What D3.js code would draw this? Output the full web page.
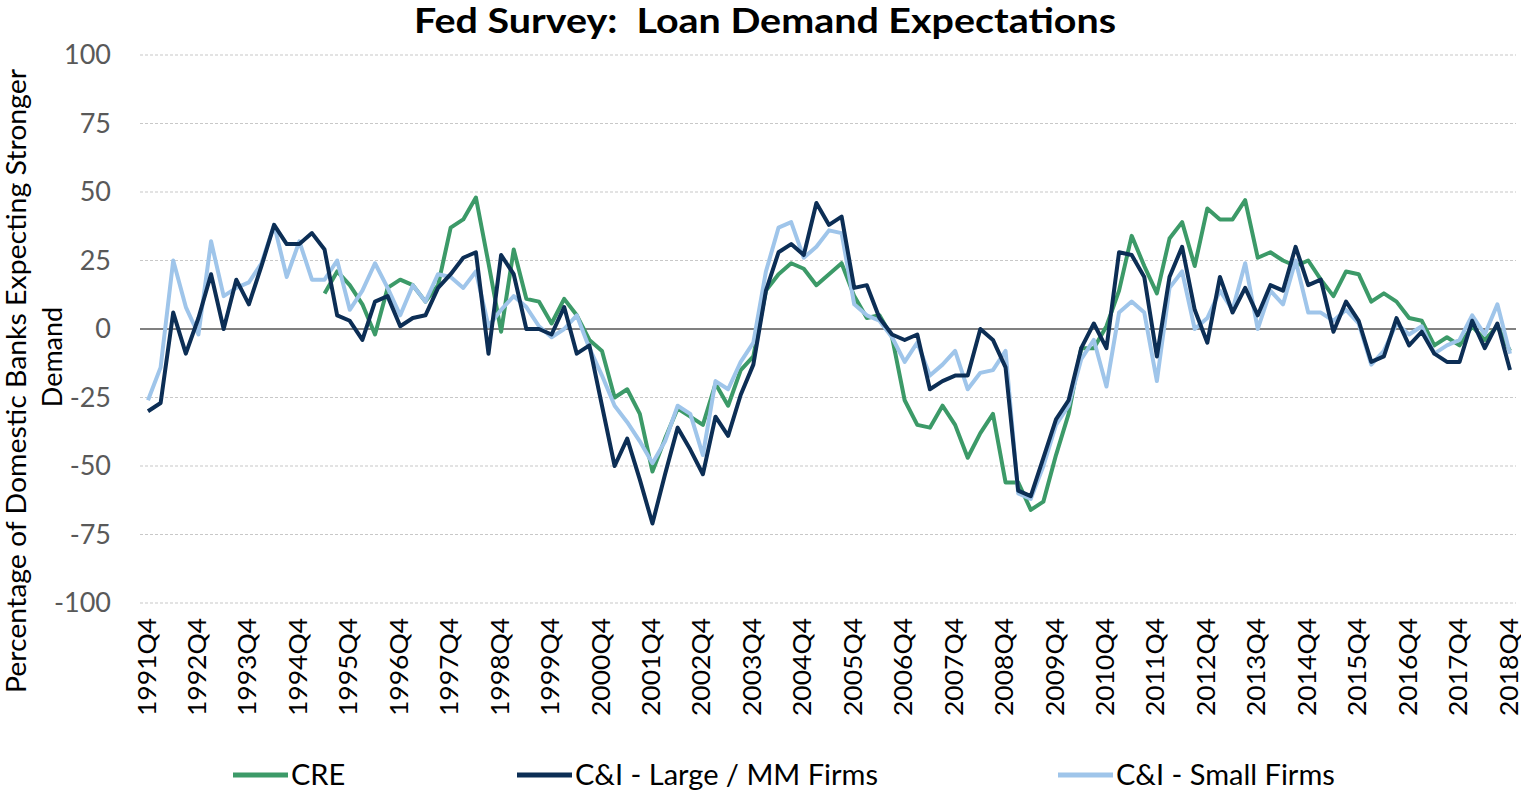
<!DOCTYPE html>
<html>
<head>
<meta charset="utf-8">
<script src="https://cdn.jsdelivr.net/npm/d3@7"></script>
<style>
  html, body { margin: 0; padding: 0; background: #fff; }
  svg { display: block; font-family: Lato, "Open Sans", sans-serif; }
</style>
</head>
<body>
<svg id="chart" width="1521" height="793"></svg>
<script>
// Quarterly survey readings, 1991Q4 through 2018Q4 (net % of banks)
const quarters = ["1991Q4"];
for (let y = 1992; y <= 2018; y++) for (let q = 1; q <= 4; q++) quarters.push(y + "Q" + q);

const yTicks = [100, 75, 50, 25, 0, -25, -50, -75, -100];

const cre = [
  null, null, null, null, null, null, null, null, null, null, null, null, null, null,
  13, 21, 16, 9, -2, 15, 18, 16, 10, 16, 37, 40, 48, 24, -1, 29,
  11, 10, 2, 11, 5, -4, -8, -25, -22, -31, -52, -40, -29, -32, -35, -20,
  -28, -15, -10, 14, 20, 24, 22, 16, 20, 24, 12, 4, 5, -3, -26, -35,
  -36, -28, -35, -47, -38, -31, -56, -56, -66, -63, -46, -31, -7, -7,
  1, 14, 34, 23, 13, 33, 39, 23, 44, 40, 40, 47, 26, 28, 25, 23,
  25, 18, 12, 21, 20, 10, 13, 10, 4, 3, -6, -3, -6, 1, -4, 1, -8
];

const ciLarge = [
  -30, -27, 6, -9, 4, 20, 0, 18, 9, 23, 38, 31, 31, 35, 29, 5,
  3, -4, 10, 12, 1, 4, 5, 15, 20, 26, 28, -9, 27, 20, 0, 0,
  -2, 8, -9, -6, -28, -50, -40, -55, -71, -53, -36, -44, -53, -32, -39, -24,
  -13, 14, 28, 31, 27, 46, 38, 41, 15, 16, 4, -2, -4, -2, -22, -19,
  -17, -17, 0, -4, -14, -59, -61, -47, -33, -26, -7, 2, -7, 28, 27, 19,
  -10, 19, 30, 7, -5, 19, 6, 15, 5, 16, 14, 30, 16, 18, -1, 10,
  3, -12, -10, 4, -6, -1, -9, -12, -12, 3, -7, 2, -15
];

const ciSmall = [
  -26, -14, 25, 8, -2, 32, 12, 15, 17, 24, 38, 19, 32, 18, 18, 25,
  7, 14, 24, 15, 5, 16, 10, 20, 19, 15, 21, 1, 7, 12, 8, 1,
  -3, 0, 5, -7, -17, -28, -34, -41, -49, -41, -28, -31, -46, -19, -22, -12,
  -5, 21, 37, 39, 26, 30, 36, 35, 9, 5, 3, -3, -12, -5, -17, -13,
  -8, -22, -16, -15, -8, -60, -62, -50, -35, -28, -11, -4, -21, 6, 10, 6,
  -19, 15, 21, 0, 4, 14, 7, 24, 0, 14, 9, 25, 6, 6, 3, 7,
  2, -13, -8, 2, -2, 1, -9, -6, -4, 5, -2, 9, -9
];

const seriesNames = ["CRE", "C&I - Large / MM Firms", "C&I - Small Firms"];
const seriesColors = ["#3c9a68", "#0c2e55", "#9fc5ea"];
const seriesData = [cre, ciLarge, ciSmall];

const svg = d3.select("#chart");
const plot = { left: 148, right: 1510, top: 55, bottom: 603, gridLeft: 140, gridRight: 1516 };

const x = d3.scaleLinear().domain([0, quarters.length - 1]).range([plot.left, plot.right]);
const y = d3.scaleLinear().domain([-100, 100]).range([plot.bottom, plot.top]);

// title
svg.append("text")
  .attr("x", 765).attr("y", 33)
  .attr("text-anchor", "middle")
  .attr("font-size", 34).attr("font-weight", 700).attr("fill", "#000")
  .attr("textLength", 702).attr("lengthAdjust", "spacingAndGlyphs")
  .style("white-space", "pre")
  .text("Fed Survey:  Loan Demand Expectations");

// horizontal gridlines
svg.append("g").selectAll("line")
  .data(yTicks.filter(t => t !== 0))
  .join("line")
  .attr("x1", plot.gridLeft).attr("x2", plot.gridRight)
  .attr("y1", d => y(d)).attr("y2", d => y(d))
  .attr("stroke", "#c8c8c8").attr("stroke-width", 1.2)
  .attr("stroke-dasharray", "3,2");

// y axis labels
const yAxis = d3.axisLeft(y).tickValues(yTicks).tickFormat(d => String(d)).tickSize(0).tickPadding(0);
const gy = svg.append("g").attr("transform", "translate(111,0)").call(yAxis);
gy.select(".domain").remove();
gy.selectAll("text").attr("font-size", 27).attr("fill", "#595959")
  .attr("font-family", "Lato, sans-serif");

// x axis labels (every fourth quarter)
const xTickIdx = quarters.map((q, i) => i).filter(i => quarters[i].endsWith("Q4"));
const xAxis = d3.axisBottom(x).tickValues(xTickIdx).tickFormat(i => quarters[i]).tickSize(0).tickPadding(0);
const gx = svg.append("g").attr("transform", `translate(0,${plot.bottom})`).call(xAxis);
gx.select(".domain").remove();
gx.selectAll("text")
  .attr("font-size", 25).attr("fill", "#000")
  .attr("font-family", "Lato, sans-serif")
  .attr("text-anchor", "end")
  .attr("dy", "0.28em")
  .attr("textLength", 98).attr("lengthAdjust", "spacingAndGlyphs")
  .attr("transform", "translate(0,15) rotate(-90)")
  .attr("x", 0).attr("y", 0);

// zero line
svg.append("line")
  .attr("x1", plot.gridLeft).attr("x2", plot.gridRight)
  .attr("y1", y(0)).attr("y2", y(0))
  .attr("stroke", "#808080").attr("stroke-width", 2.2);

// series lines
const line = d3.line()
  .defined(d => d != null)
  .x((d, i) => x(i))
  .y(d => y(d));

// CRE underneath, then small firms, then large firms on top
[0, 2, 1].forEach(k => {
  svg.append("path")
    .datum(seriesData[k])
    .attr("d", line)
    .attr("fill", "none")
    .attr("stroke", seriesColors[k])
    .attr("stroke-width", 4)
    .attr("stroke-linejoin", "round");
});

// y axis title
const yTitle = svg.append("g").attr("font-size", 26).attr("fill", "#000");
yTitle.append("text")
  .attr("transform", "translate(26,381) rotate(-90)")
  .attr("text-anchor", "middle")
  .attr("textLength", 624).attr("lengthAdjust", "spacingAndGlyphs")
  .text("Percentage of Domestic Banks Expecting Stronger");
yTitle.append("text")
  .attr("transform", "translate(62,357) rotate(-90)")
  .attr("text-anchor", "middle")
  .attr("font-size", 27)
  .text("Demand");

// legend
const legendX = [233, 517, 1058];
const legend = svg.append("g");
seriesNames.forEach((name, k) => {
  const g = legend.append("g").attr("transform", `translate(${legendX[k]},775)`);
  g.append("line").attr("x1", 0).attr("x2", 55).attr("y1", 0).attr("y2", 0)
    .attr("stroke", seriesColors[k]).attr("stroke-width", 5);
  g.append("text").attr("x", 58).attr("y", 0).attr("dy", "0.35em")
    .attr("font-size", 29).attr("fill", "#000").text(name);
});
</script>
</body>
</html>
